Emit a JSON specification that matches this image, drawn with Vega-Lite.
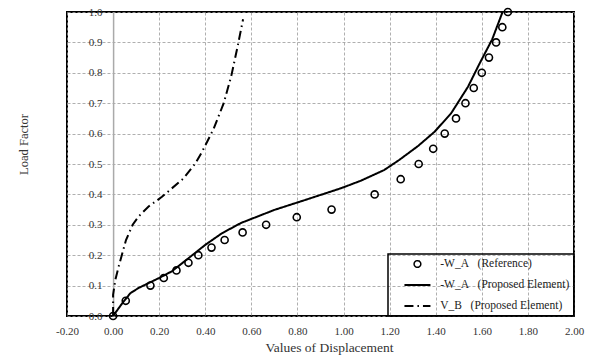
{
  "$schema": "https://vega.github.io/schema/vega-lite/v6.json",
  "width": 507,
  "height": 304,
  "autosize": {"type": "none"},
  "padding": {"left": 67, "top": 12, "right": 26, "bottom": 45},
  "background": "white",
  "config": {
    "view": {"stroke": "black", "strokeWidth": 2},
    "font": "Liberation Serif",
    "axis": {
      "labelFont": "Liberation Serif",
      "titleFont": "Liberation Serif",
      "labelColor": "#333333",
      "titleColor": "#333333",
      "titleFontWeight": "normal",
      "gridColor": "#9a9a9a",
      "gridDash": [3, 2],
      "gridWidth": 0.8,
      "ticks": false,
      "labelFlush": false,
      "labelOverlap": false
    }
  },
  "data": {
    "values": [
      {"s": "ref", "x": 0, "y": 0, "o": 0},
      {"s": "ref", "x": 0.055, "y": 0.05, "o": 1},
      {"s": "ref", "x": 0.162, "y": 0.1, "o": 2},
      {"s": "ref", "x": 0.22, "y": 0.125, "o": 3},
      {"s": "ref", "x": 0.275, "y": 0.15, "o": 4},
      {"s": "ref", "x": 0.327, "y": 0.175, "o": 5},
      {"s": "ref", "x": 0.37, "y": 0.2, "o": 6},
      {"s": "ref", "x": 0.427, "y": 0.225, "o": 7},
      {"s": "ref", "x": 0.484, "y": 0.25, "o": 8},
      {"s": "ref", "x": 0.562, "y": 0.275, "o": 9},
      {"s": "ref", "x": 0.664, "y": 0.3, "o": 10},
      {"s": "ref", "x": 0.797, "y": 0.325, "o": 11},
      {"s": "ref", "x": 0.948, "y": 0.35, "o": 12},
      {"s": "ref", "x": 1.135, "y": 0.4, "o": 13},
      {"s": "ref", "x": 1.248, "y": 0.45, "o": 14},
      {"s": "ref", "x": 1.326, "y": 0.5, "o": 15},
      {"s": "ref", "x": 1.389, "y": 0.55, "o": 16},
      {"s": "ref", "x": 1.439, "y": 0.6, "o": 17},
      {"s": "ref", "x": 1.488, "y": 0.65, "o": 18},
      {"s": "ref", "x": 1.529, "y": 0.7, "o": 19},
      {"s": "ref", "x": 1.565, "y": 0.75, "o": 20},
      {"s": "ref", "x": 1.6, "y": 0.8, "o": 21},
      {"s": "ref", "x": 1.631, "y": 0.85, "o": 22},
      {"s": "ref", "x": 1.662, "y": 0.9, "o": 23},
      {"s": "ref", "x": 1.689, "y": 0.95, "o": 24},
      {"s": "ref", "x": 1.713, "y": 1.0, "o": 25},
      {"s": "wa", "x": 0, "y": 0, "o": 0},
      {"s": "wa", "x": 0.04, "y": 0.042, "o": 1},
      {"s": "wa", "x": 0.075, "y": 0.075, "o": 2},
      {"s": "wa", "x": 0.11, "y": 0.092, "o": 3},
      {"s": "wa", "x": 0.197, "y": 0.124, "o": 4},
      {"s": "wa", "x": 0.255, "y": 0.147, "o": 5},
      {"s": "wa", "x": 0.327, "y": 0.19, "o": 6},
      {"s": "wa", "x": 0.4, "y": 0.234, "o": 7},
      {"s": "wa", "x": 0.472, "y": 0.272, "o": 8},
      {"s": "wa", "x": 0.555, "y": 0.306, "o": 9},
      {"s": "wa", "x": 0.7, "y": 0.349, "o": 10},
      {"s": "wa", "x": 0.843, "y": 0.384, "o": 11},
      {"s": "wa", "x": 0.988, "y": 0.42, "o": 12},
      {"s": "wa", "x": 1.075, "y": 0.445, "o": 13},
      {"s": "wa", "x": 1.176, "y": 0.48, "o": 14},
      {"s": "wa", "x": 1.241, "y": 0.513, "o": 15},
      {"s": "wa", "x": 1.323, "y": 0.559, "o": 16},
      {"s": "wa", "x": 1.395, "y": 0.606, "o": 17},
      {"s": "wa", "x": 1.467, "y": 0.667, "o": 18},
      {"s": "wa", "x": 1.54, "y": 0.754, "o": 19},
      {"s": "wa", "x": 1.59, "y": 0.83, "o": 20},
      {"s": "wa", "x": 1.645, "y": 0.91, "o": 21},
      {"s": "wa", "x": 1.69, "y": 1.0, "o": 22},
      {"s": "vb", "x": 0, "y": 0, "o": 0},
      {"s": "vb", "x": 0.0, "y": 0.07, "o": 1},
      {"s": "vb", "x": 0.01, "y": 0.12, "o": 2},
      {"s": "vb", "x": 0.024, "y": 0.162, "o": 3},
      {"s": "vb", "x": 0.056, "y": 0.25, "o": 4},
      {"s": "vb", "x": 0.085, "y": 0.3, "o": 5},
      {"s": "vb", "x": 0.11, "y": 0.327, "o": 6},
      {"s": "vb", "x": 0.154, "y": 0.36, "o": 7},
      {"s": "vb", "x": 0.212, "y": 0.392, "o": 8},
      {"s": "vb", "x": 0.306, "y": 0.453, "o": 9},
      {"s": "vb", "x": 0.357, "y": 0.502, "o": 10},
      {"s": "vb", "x": 0.386, "y": 0.54, "o": 11},
      {"s": "vb", "x": 0.436, "y": 0.615, "o": 12},
      {"s": "vb", "x": 0.48, "y": 0.7, "o": 13},
      {"s": "vb", "x": 0.513, "y": 0.79, "o": 14},
      {"s": "vb", "x": 0.539, "y": 0.882, "o": 15},
      {"s": "vb", "x": 0.564, "y": 0.976, "o": 16}
    ]
  },
  "encoding": {
    "x": {
      "field": "x",
      "type": "quantitative",
      "scale": {"domain": [-0.2, 2.0], "nice": false, "zero": false},
      "axis": {
        "values": [-0.2, 0, 0.2, 0.4, 0.6, 0.8, 1.0, 1.2, 1.4, 1.6, 1.8, 2.0],
        "format": ".2f",
        "labelExpr": "replace(datum.label, '\u2212', '-')",
        "title": "Values of Displacement",
        "labelFontSize": 11,
        "titleFontSize": 13.5,
        "labelPadding": 9,
        "titlePadding": 4,
        "domain": false,
        "titleX": 262
      }
    },
    "y": {
      "field": "y",
      "type": "quantitative",
      "scale": {"domain": [0, 1], "nice": false},
      "axis": {
        "values": [0, 0.1, 0.2, 0.3, 0.4, 0.5, 0.6, 0.7, 0.8, 0.9, 1.0],
        "format": ".1f",
        "title": "Load Factor",
        "offset": -46.1,
        "domainColor": "#aaaaaa",
        "domainWidth": 1.5,
        "labelPadding": 11,
        "labelFontSize": 11,
        "titleFontSize": 12.5,
        "titleX": -89.5,
        "titleY": 132,
        "titleBaseline": "middle"
      }
    }
  },
  "layer": [
    {
      "transform": [{"filter": "datum.s !== 'ref'"}],
      "mark": {"type": "line", "color": "black", "strokeWidth": 2},
      "encoding": {
        "order": {"field": "o"},
        "strokeDash": {
          "field": "s",
          "type": "nominal",
          "scale": {
            "domain": ["ref", "wa", "vb"],
            "range": [[1, 0], [1, 0], [9, 4, 1.5, 4]]
          },
          "legend": {
            "title": null,
            "orient": "bottom-right",
            "offset": 0,
            "padding": 4,
            "strokeColor": "black",
            "symbolOffset": 19.7,
            "labelOffset": 17,
            "labelFont": "Liberation Serif",
            "labelFontSize": 11.5,
            "labelColor": "#222222",
            "labelLimit": 400,
            "rowPadding": 9,
            "clipHeight": 12,
            "symbolSize": 676,
            "symbolStrokeWidth": 2,
            "symbolStrokeColor": "black",
            "labelExpr": "datum.value === 'ref' ? '-W_A\u00a0\u00a0\u00a0(Reference)' : datum.value === 'wa' ? '-W_A\u00a0\u00a0\u00a0(Proposed Element)' : '\u00a0\u00a0\u00a0V_B\u00a0\u00a0\u00a0(Proposed Element)'",
            "encode": {
              "legend": {"update": {"strokeWidth": {"value": 1.5}}},
              "symbols": {
                "update": {
                  "shape": {"signal": "datum.value === 'ref' ? 'circle' : 'stroke'"},
                  "size": {"signal": "datum.value === 'ref' ? 45 : 676"},
                  "strokeDash": {"signal": "datum.value === 'vb' ? [19, 3, 1.5, 10] : [1, 0]"},
                  "strokeWidth": {"signal": "datum.value === 'ref' ? 1.5 : 2"},
                  "fill": {"value": "transparent"},
                  "stroke": {"value": "black"}
                }
              }
            }
          }
        }
      }
    },
    {
      "transform": [{"filter": "datum.s === 'ref'"}],
      "mark": {"type": "point", "shape": "circle", "filled": false, "stroke": "black", "strokeWidth": 1.6, "size": 50, "opacity": 1}
    }
  ]
}
